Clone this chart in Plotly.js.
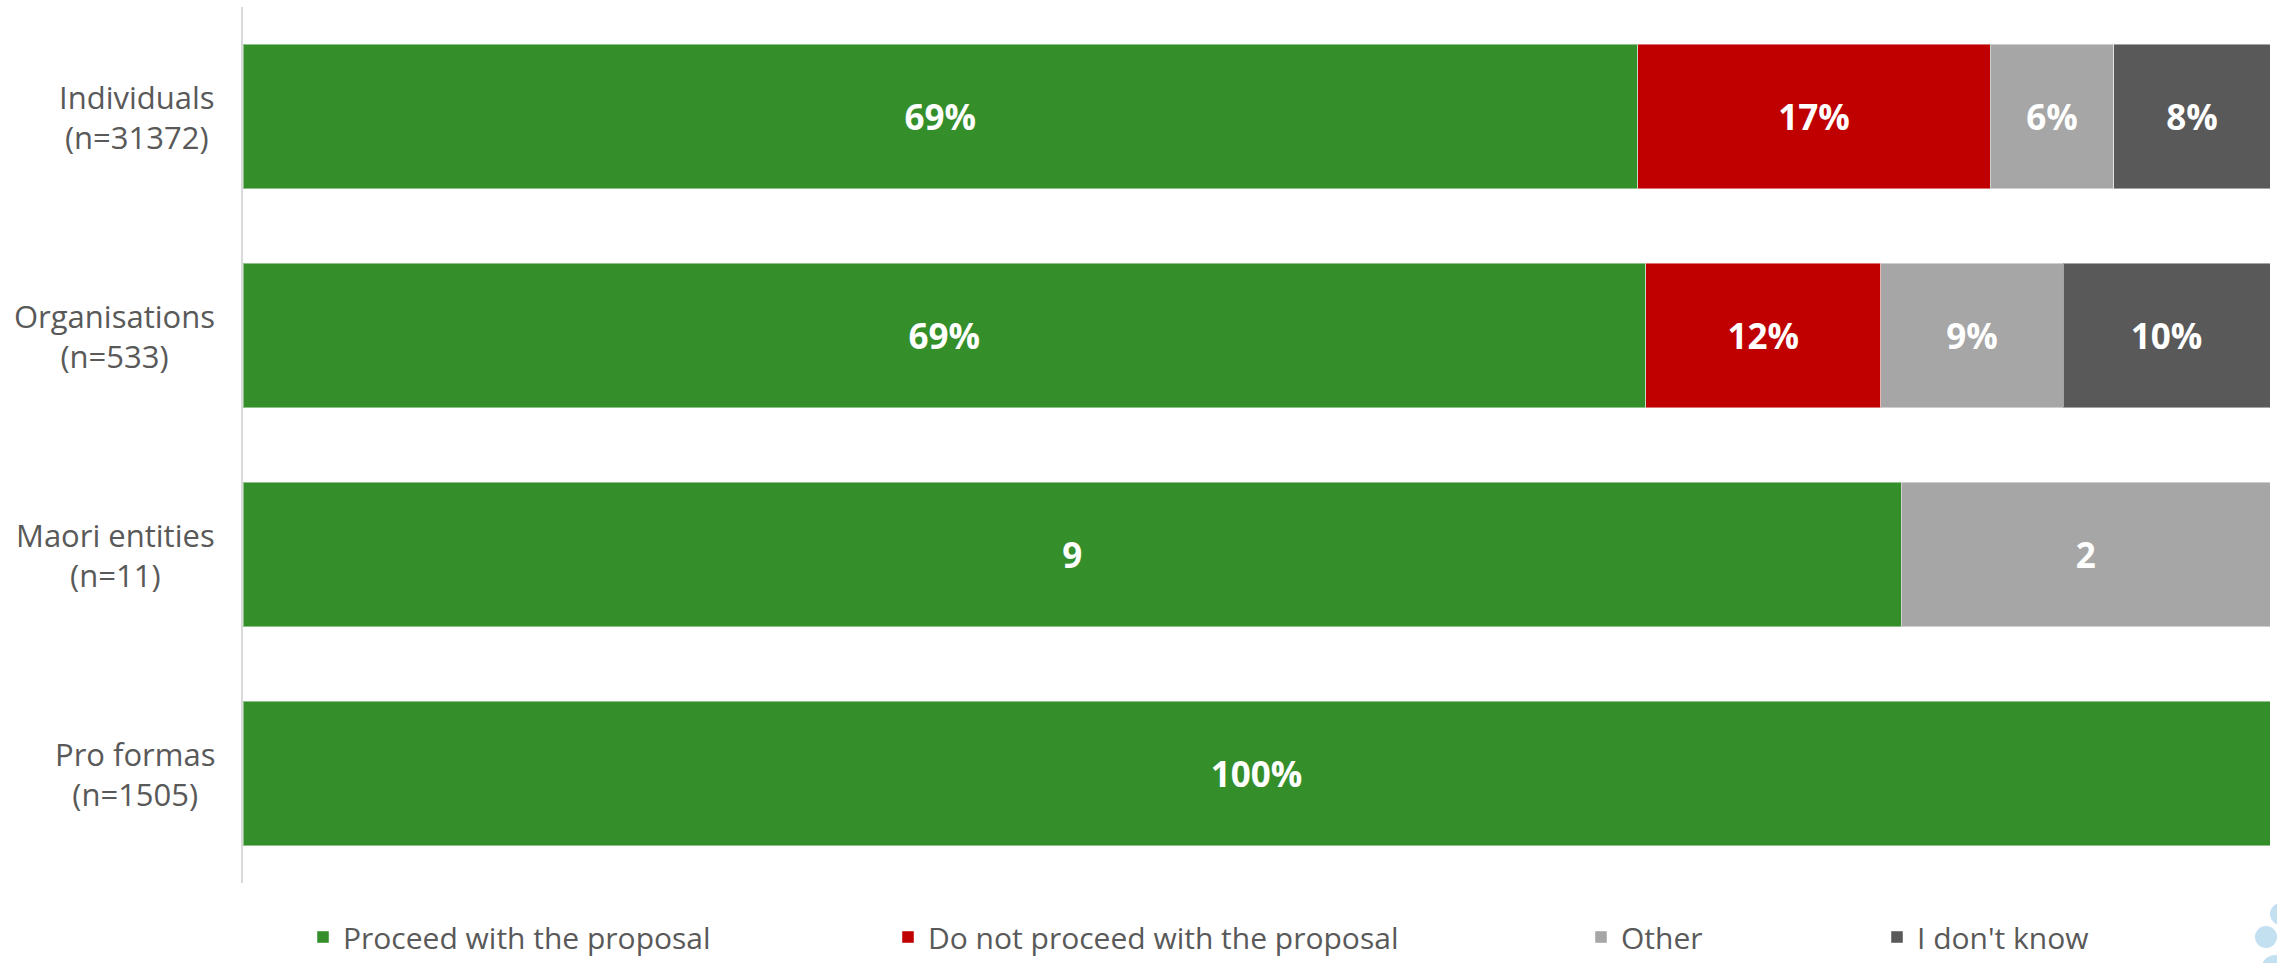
<!DOCTYPE html>
<html>
<head>
<meta charset="utf-8">
<script src="https://cdn.plot.ly/plotly-3.0.1.min.js"></script>
<style>
  html, body { margin: 0; padding: 0; background: #ffffff; }
  #chart { width: 2277px; height: 963px; }
</style>
</head>
<body>
<div id="chart"></div>
<script>
// ---- Data ----
const categories = [
  'Individuals<br>(n=31372)',
  'Organisations<br>(n=533)',
  'Maori entities<br>(n=11)',
  'Pro formas<br>(n=1505)'
];
const seriesNames = [
  'Proceed with the proposal',
  'Do not proceed with the proposal',
  'Other',
  "I don't know"
];
// Values per category (percent for most groups, raw counts for Maori entities; stacks are normalised to 100%)
const proceedValues   = [68.8, 69.2, 9, 100];
const notProceedVals  = [17.4, 11.6, 0, 0];
const otherValues     = [6.1, 9.0, 2, 0];
const dontKnowValues  = [7.7, 10.2, 0, 0];
// Labels shown inside the bars
const proceedLabels    = ['69%', '69%', '9', '100%'];
const notProceedLabels = ['17%', '12%', '', ''];
const otherLabels      = ['6%', '9%', '2', ''];
const dontKnowLabels   = ['8%', '10%', '', ''];

const colors = ['#348e2a', '#c00000', '#a6a6a6', '#595959'];
const values = [proceedValues, notProceedVals, otherValues, dontKnowValues];
const labels = [proceedLabels, notProceedLabels, otherLabels, dontKnowLabels];
const legendIds = ['legend', 'legend2', 'legend3', 'legend4'];
const legendTextX = [348, 933, 1626, 1922];

const traces = seriesNames.map((name, i) => ({
  type: 'bar',
  orientation: 'h',
  name: name,
  y: categories,
  x: values[i],
  text: labels[i],
  textposition: 'inside',
  insidetextanchor: 'middle',
  constraintext: 'none',
  textfont: { family: 'Open Sans, sans-serif', size: 35, color: '#ffffff', weight: 700 },
  marker: { color: colors[i], line: { color: 'rgba(255,255,255,0.45)', width: 1 } },
  legend: legendIds[i],
  hoverinfo: 'name+text'
}));

const W = 2277, H = 963;
const legendBase = {
  orientation: 'h',
  xref: 'container', yref: 'container',
  xanchor: 'left', yanchor: 'bottom',
  y: -0.006,
  font: { family: 'Open Sans, sans-serif', size: 30, color: '#595959' },
  bgcolor: 'rgba(0,0,0,0)',
  borderwidth: 0
};
function legendAt(px) {
  return Object.assign({}, legendBase, { x: (px - 45) / W });
}

const annotations = categories.map(c => ({
  xref: 'paper', yref: 'y',
  x: 0, y: c,
  xanchor: 'right', yanchor: 'middle',
  xshift: -26,
  align: 'center',
  showarrow: false,
  text: c,
  font: { family: 'Open Sans, sans-serif', size: 31, color: '#595959' }
}));

const layout = {
  width: W, height: H,
  margin: { l: 243, r: 7, t: 7, b: 80 },
  paper_bgcolor: '#ffffff',
  plot_bgcolor: '#ffffff',
  barmode: 'stack',
  barnorm: 'percent',
  bargap: 0.34,
  showlegend: true,
  xaxis: {
    range: [0, 100],
    showgrid: false, zeroline: false, showline: false,
    showticklabels: false, ticks: '', fixedrange: true
  },
  yaxis: {
    type: 'category',
    autorange: 'reversed',
    showgrid: false, zeroline: false,
    showline: true, linecolor: '#d9d9d9', linewidth: 2,
    showticklabels: false, ticks: '', fixedrange: true
  },
  legend: legendAt(legendTextX[0]),
  legend2: legendAt(legendTextX[1]),
  legend3: legendAt(legendTextX[2]),
  legend4: legendAt(legendTextX[3]),
  annotations: annotations,
  shapes: [
    { type: 'circle', xref: 'paper', yref: 'paper', layer: 'above',
      x0: (2270 - 243) / 2027, x1: (2292 - 243) / 2027,
      y0: (883 - 925) / 876, y1: (883 - 903) / 876,
      fillcolor: '#c3e0f1', line: { width: 0 } },
    { type: 'circle', xref: 'paper', yref: 'paper', layer: 'above',
      x0: (2255 - 243) / 2027, x1: (2277 - 243) / 2027,
      y0: (883 - 948) / 876, y1: (883 - 926) / 876,
      fillcolor: '#c3e0f1', line: { width: 0 } },
    { type: 'circle', xref: 'paper', yref: 'paper', layer: 'above',
      x0: (2262 - 243) / 2027, x1: (2290 - 243) / 2027,
      y0: (883 - 978) / 876, y1: (883 - 955) / 876,
      fillcolor: '#c3e0f1', line: { width: 0 } }
  ]
};

Plotly.newPlot('chart', traces, layout, { displayModeBar: false, staticPlot: true });
</script>
</body>
</html>
